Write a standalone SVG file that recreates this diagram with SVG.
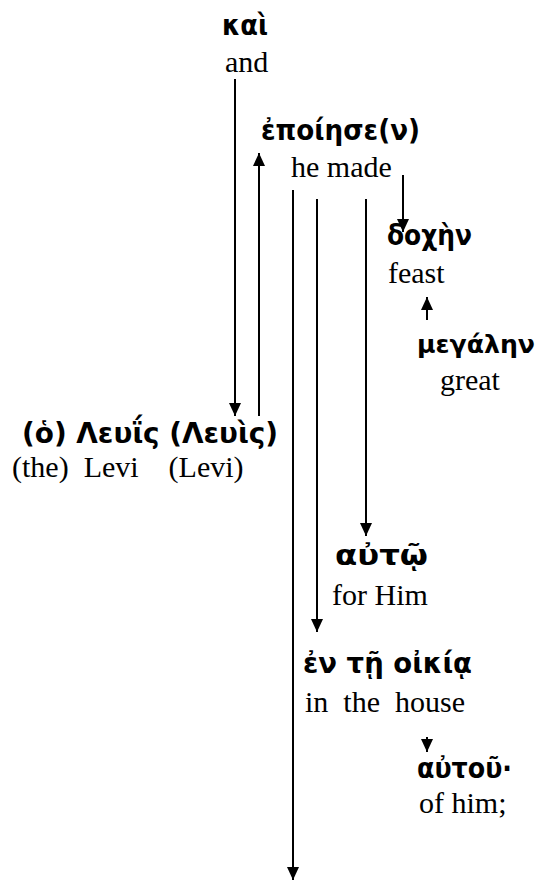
<svg xmlns="http://www.w3.org/2000/svg" width="544" height="882" viewBox="0 0 544 882">
<style>
.g{font-family:"DejaVu Sans","Noto Sans",sans-serif;font-weight:bold;font-size:28px;fill:#000}
.e{font-family:"Liberation Serif","Times New Roman",serif;font-size:30px;fill:#000}
.c{stroke:#000;stroke-width:2;fill:none;marker-end:url(#ah)}
</style>
<defs>
<marker id="ah" markerUnits="userSpaceOnUse" markerWidth="14" markerHeight="12" refX="13" refY="6" orient="auto" viewBox="0 0 14 12">
<path d="M0,0 L13,6 L0,12 Z" fill="#000"/>
</marker>
</defs>
<rect width="544" height="882" fill="#fff"/>
<g id="connectors">
<line class="c" x1="235" y1="79" x2="235" y2="416"/>
<line class="c" x1="259" y1="416" x2="259" y2="153"/>
<line class="c" x1="293" y1="190" x2="293" y2="880"/>
<line class="c" x1="317" y1="199" x2="317" y2="632"/>
<line class="c" x1="366" y1="199" x2="366" y2="536"/>
<line class="c" x1="403" y1="175" x2="403" y2="232"/>
<line class="c" x1="427" y1="320" x2="427" y2="297"/>
<line class="c" x1="427" y1="737" x2="427" y2="752"/>
</g>
<g id="kai">
<text class="g" x="222" y="35" textLength="46" lengthAdjust="spacingAndGlyphs">καὶ</text>
<text class="e" x="225" y="72">and</text>
</g>
<g id="epoiese">
<text class="g" x="261" y="140" textLength="159" lengthAdjust="spacingAndGlyphs">ἐποίησε(ν)</text>
<text class="e" x="291" y="177">he made</text>
</g>
<g id="doxen">
<text class="g" x="387" y="245" textLength="85" lengthAdjust="spacingAndGlyphs">δοχὴν</text>
<text class="e" x="388" y="283">feast</text>
</g>
<g id="megalen">
<text class="g" x="417" y="353" style="font-size:24.5px" textLength="118" lengthAdjust="spacingAndGlyphs">μεγάλην</text>
<text class="e" x="440" y="390">great</text>
</g>
<g id="levis">
<text class="g" x="22" y="443" textLength="256" lengthAdjust="spacingAndGlyphs">(ὁ) Λευΐς (Λευὶς)</text>
<text class="e" x="12" y="477" xml:space="preserve">(the)  Levi    (Levi)</text>
</g>
<g id="auto">
<text class="g" x="335" y="565" textLength="93" lengthAdjust="spacingAndGlyphs">αὐτῷ</text>
<text class="e" x="332" y="605">for Him</text>
</g>
<g id="oikia">
<text class="g" x="303" y="673" textLength="169" lengthAdjust="spacingAndGlyphs">ἐν τῇ οἰκίᾳ</text>
<text class="e" x="305" y="712" xml:space="preserve">in  the  house</text>
</g>
<g id="autou">
<text class="g" x="417" y="778" textLength="95" lengthAdjust="spacingAndGlyphs">αὐτοῦ·</text>
<text class="e" x="419" y="813">of him;</text>
</g>
</svg>
